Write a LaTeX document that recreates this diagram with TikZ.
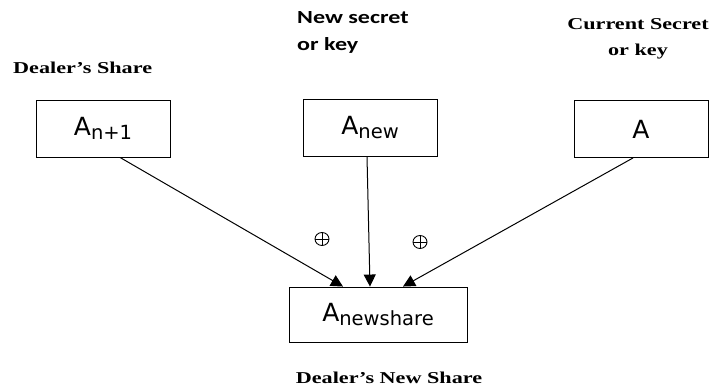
\documentclass[tikz,border=0pt]{standalone}
\usepackage{fontspec}
\setmainfont{Liberation Serif}
\newfontfamily\boxfont{DejaVu Sans}
\newfontfamily\calfont{Carlito}
\usetikzlibrary{arrows.meta,calc,shapes.geometric}
\begin{document}
\begin{tikzpicture}[x=1pt,y=-1pt,
  sharebox/.style={draw, line width=0.9pt, minimum width=134pt, minimum height=57pt, inner sep=0pt,
    font=\boxfont\fontsize{25}{25}\selectfont},
  caption/.style={font=\bfseries\fontsize{15.5}{18}\selectfont, align=center, inner sep=0pt},
  link/.style={line width=1pt, -{Triangle[length=12pt,width=12pt]}},
  xorsym/.style={ellipse, draw, line width=0.9pt, minimum width=14pt, minimum height=13pt, inner sep=0pt,
    path picture={\draw[line width=0.9pt]
      (path picture bounding box.north) -- (path picture bounding box.south)
      (path picture bounding box.west) -- (path picture bounding box.east);}}]
\useasboundingbox (0,0) rectangle (711,390);
\newcommand{\subtxt}[1]{\raisebox{-4pt}{\fontsize{19.5}{19.5}\selectfont #1}}
\newcommand{\widebold}[1]{\scalebox{1.43}[1.07]{#1}}

% operand boxes
\node[sharebox] (b1) at (103,128.5) {A\subtxt{n+1}};
\node[sharebox] (b2) at (370,127.5) {A\subtxt{new}};
\node[sharebox] (b3) at (641,129) {A};
% result box
\node[sharebox, minimum width=178pt, minimum height=55pt] (res) at (378,314.5) {A\subtxt{newshare}};

% captions
\node[caption, anchor=west] (c1) at (13,68) {\widebold{Dealer’s Share}};
\node[caption, anchor=west, align=left, font=\calfont\bfseries\fontsize{18.5}{27}\selectfont] (c2) at (297,32)
  {\scalebox{1.3}[1]{New secret}\\\scalebox{1.3}[1]{or key}};
\node[caption, font=\bfseries\fontsize{15.5}{26}\selectfont] (c3) at (638,39) {\widebold{Current Secret}\\\widebold{or key}};
\node[caption] (c4) at (389,378) {\widebold{Dealer’s New Share}};

% XOR signs
\node[xorsym] (x1) at (322,239) {};
\node[xorsym] (x2) at (420,242) {};

% connectors
\draw[link] ($(b1.south)+(17,0)$) -- ($(res.north)+(-35,0)$);
\draw[link] ($(b2.south)+(-3,0)$) -- ($(res.north)+(-8,0)$);
\draw[link] ($(b3.south)+(-8,0)$) -- ($(res.north)+(25,0)$);
\end{tikzpicture}
\end{document}
